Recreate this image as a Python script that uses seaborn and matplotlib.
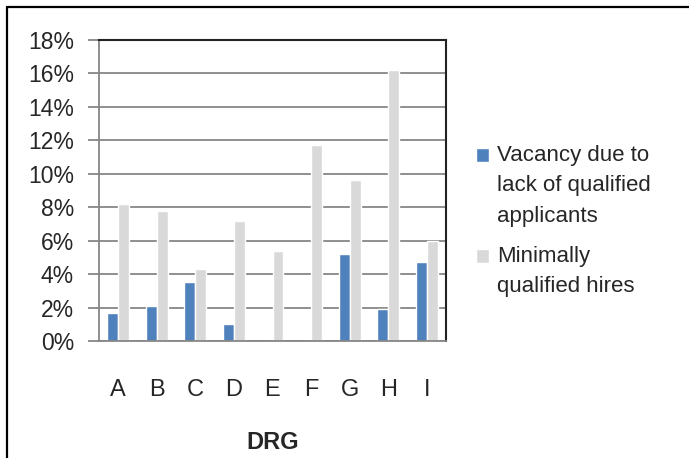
import numpy as np
import pandas as pd
import seaborn as sns
from matplotlib import pyplot as plt
from matplotlib.lines import Line2D
from matplotlib.patches import Rectangle
from matplotlib.legend_handler import HandlerPatch
from matplotlib.ticker import FuncFormatter, MultipleLocator, FixedLocator

drg = ['A', 'B', 'C', 'D', 'E', 'F', 'G', 'H', 'I']
vacancy = [1.7, 2.1, 3.5, 1.0, 0.0, 0.0, 5.2, 1.9, 4.7]
minimal = [8.2, 7.8, 4.3, 7.2, 5.4, 11.7, 9.6, 16.2, 6.0]
series = ['Vacancy due to\nlack of qualified\napplicants', 'Minimally\nqualified hires']
colors = ['#4F81BD', '#D9D9D9']

df = pd.DataFrame({
    'DRG': drg * 2,
    'value': vacancy + minimal,
    'series': [series[0]] * len(drg) + [series[1]] * len(drg),
})

sns.set_style('white')
plt.rcParams['font.family'] = ['Liberation Sans Narrow', 'Liberation Sans', 'DejaVu Sans']

fig = plt.figure(figsize=(6.89, 4.58), dpi=100)
ax = fig.add_axes([99 / 689, 1 - 341 / 458, (446 - 99) / 689, (341 - 40) / 458])

sns.barplot(data=df, x='DRG', y='value', hue='series', palette=colors,
            width=0.57, gap=0, saturation=1, ax=ax, legend=True)

ax.set_ylim(0, 18)
ax.set_xlim(-0.5, len(drg) - 0.5)
ax.yaxis.set_major_locator(MultipleLocator(2))
ax.yaxis.set_major_formatter(FuncFormatter(lambda v, p: f'{v:.0f}%'))
ax.grid(axis='y', color='#868686', linewidth=1.3)
ax.set_axisbelow(True)

# ticks between categories on x, outward ticks on y
ax.xaxis.set_minor_locator(FixedLocator(np.arange(-0.5, len(drg), 1.0)))
ax.tick_params(axis='x', which='major', length=0, labelsize=17, pad=27)
ax.tick_params(axis='x', which='minor', length=7, width=1.3, color='#868686', direction='out')
ax.tick_params(axis='y', length=8, width=1.3, color='#868686', direction='out',
               labelsize=16.5, pad=10, left=True)

for side in ['left', 'bottom']:
    ax.spines[side].set_color('#868686')
    ax.spines[side].set_linewidth(1.3)
for side in ['top', 'right']:
    ax.spines[side].set_color('#222222')
    ax.spines[side].set_linewidth(1.5)

ax.set_ylabel('')
ax.set_xlabel('DRG', fontsize=17, fontweight='bold', labelpad=22)


def top_square(lift):
    # put the legend square next to the first line of a multi-line label
    def make(legend, orig_handle, xdescent, ydescent, width, height, fontsize):
        return Rectangle((-xdescent, -ydescent + lift), width, height)
    return make


handles, labels = ax.get_legend_handles_labels()
step = 31 * 72 / 100
hmap = {h: HandlerPatch(patch_func=top_square(step * (lab.count('\n')) / 2))
        for h, lab in zip(handles, labels)}
leg = ax.legend(handles, labels, loc='center left', bbox_to_anchor=(467 / 689, 1 - 221 / 458),
                bbox_transform=fig.transFigure, frameon=False, fontsize=16,
                handlelength=0.6, handleheight=0.6, handletextpad=0.35,
                labelspacing=0.85, borderaxespad=0, handler_map=hmap)
for t in leg.get_texts():
    t.set_linespacing(1.58)

# outer frame lines (top and left only)
fig.add_artist(Line2D([7 / 689, 1], [1 - 7 / 458, 1 - 7 / 458], color='black',
                      linewidth=1.6, transform=fig.transFigure))
fig.add_artist(Line2D([7 / 689, 7 / 689], [0, 1 - 7 / 458], color='black',
                      linewidth=1.6, transform=fig.transFigure))

plt.savefig('out.png', dpi=100)
